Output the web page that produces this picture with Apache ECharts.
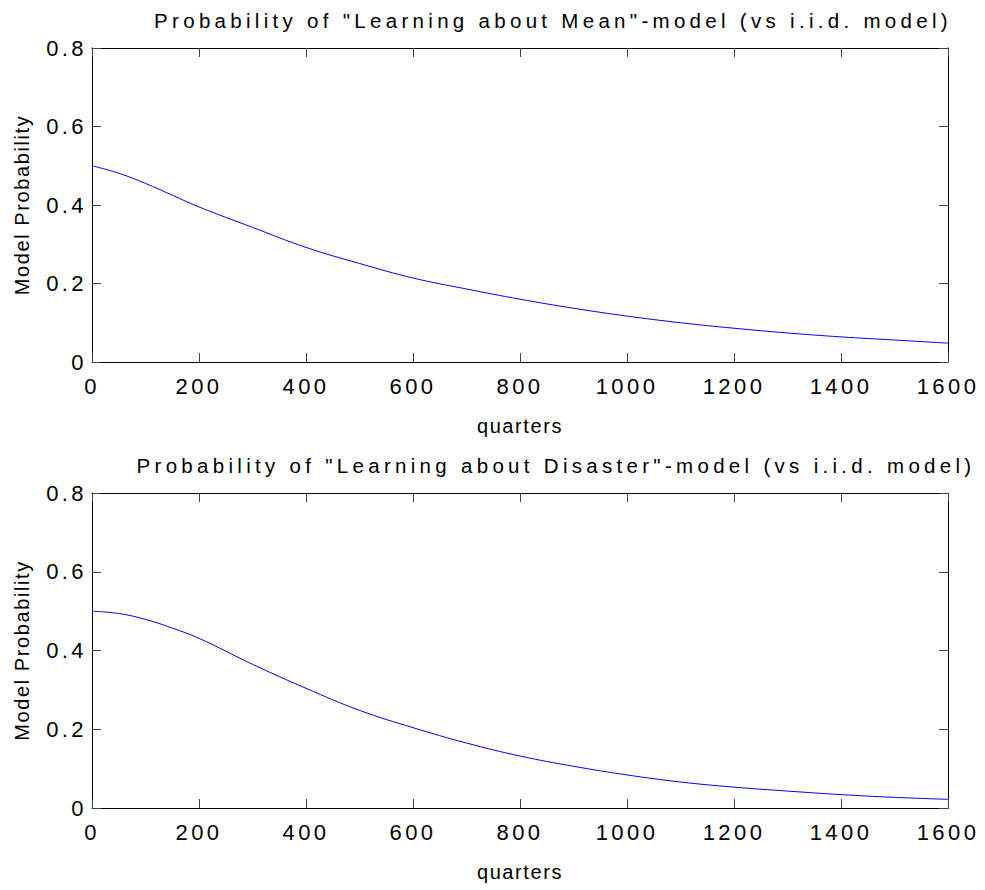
<!DOCTYPE html>
<html>
<head>
<meta charset="utf-8">
<script src="https://cdn.jsdelivr.net/npm/echarts@6/dist/echarts.min.js"></script>
<style>
html,body{margin:0;padding:0;background:#fff;}
#chart{width:985px;height:890px;}
</style>
</head>
<body>
<div id="chart"></div>
<script>
// ---- data ----
const quarters = [0, 50, 100, 150, 200, 300, 400, 500, 600, 700, 800, 900, 1000, 1100, 1200, 1300, 1400, 1500, 1600];
const meanProb = [0.500, 0.481, 0.455, 0.425, 0.395, 0.343, 0.292, 0.251, 0.214, 0.186, 0.160, 0.137, 0.117, 0.100, 0.086, 0.074, 0.064, 0.056, 0.048];
const disasterProb = [0.500, 0.494, 0.479, 0.457, 0.431, 0.365, 0.304, 0.248, 0.204, 0.165, 0.132, 0.106, 0.084, 0.066, 0.053, 0.043, 0.034, 0.027, 0.022];
const xTicks = [0, 200, 400, 600, 800, 1000, 1200, 1400, 1600];
const yTicks = [0, 0.2, 0.4, 0.6, 0.8];
const titles = [
  'Probability of "Learning about Mean"-model (vs i.i.d. model)',
  'Probability of "Learning about Disaster"-model (vs i.i.d. model)'
];
const xName = 'quarters';
const yName = 'Model Probability';

const FONT = '"Liberation Sans", Arial, Helvetica, sans-serif';
const grids = [
  {left: 92, top: 48, width: 856, height: 314},
  {left: 92, top: 493, width: 856, height: 315}
];

const xAxes = [], yAxes = [], series = [];
const seriesData = [meanProb, disasterProb];
grids.forEach((g, gi) => {
  const xMin = xTicks[0], xMax = xTicks[xTicks.length - 1], xInt = xTicks[1] - xTicks[0];
  const yMin = yTicks[0], yMax = yTicks[yTicks.length - 1], yInt = yTicks[1] - yTicks[0];
  const tick = {show: true, inside: true, length: 9, lineStyle: {color: '#444', width: 1}};
  const line = {show: true, onZero: false, lineStyle: {color: '#000', width: 1}};
  // bottom x axis
  xAxes.push({
    type: 'value', gridIndex: gi, position: 'bottom', min: xMin, max: xMax, interval: xInt,
    axisLine: line, axisTick: tick, splitLine: {show: false},
    axisLabel: {show: true, margin: 13, fontSize: 22, color: '#000', fontFamily: FONT,
      formatter: v => String(v), showMinLabel: true, showMaxLabel: true},
    name: xName, nameLocation: 'middle', nameGap: 54,
    nameTextStyle: {fontSize: 20, color: '#000', fontFamily: FONT}
  });
  // top x axis (box)
  xAxes.push({
    type: 'value', gridIndex: gi, position: 'top', min: xMin, max: xMax, interval: xInt,
    axisLine: line, axisTick: tick, splitLine: {show: false}, axisLabel: {show: false}
  });
  // left y axis
  yAxes.push({
    type: 'value', gridIndex: gi, position: 'left', min: yMin, max: yMax, interval: yInt,
    axisLine: line, axisTick: tick, splitLine: {show: false},
    axisLabel: {show: true, margin: 5, fontSize: 22, color: '#000', fontFamily: FONT,
      formatter: v => (v === 0 ? '0' : v.toFixed(1))},
    name: yName, nameLocation: 'middle', nameGap: 60, nameRotate: 90,
    nameTextStyle: {fontSize: 20, color: '#000', fontFamily: FONT}
  });
  // right y axis (box)
  yAxes.push({
    type: 'value', gridIndex: gi, position: 'right', min: yMin, max: yMax, interval: yInt,
    axisLine: line, axisTick: tick, splitLine: {show: false}, axisLabel: {show: false}
  });
  series.push({
    type: 'line', xAxisIndex: gi * 2, yAxisIndex: gi * 2,
    data: quarters.map((q, i) => [q, seriesData[gi][i]]),
    smooth: 0.4, showSymbol: false, symbol: 'none',
    lineStyle: {color: '#0000ff', width: 1}, itemStyle: {color: '#0000ff'},
    animation: false, silent: true
  });
});

const chart = echarts.init(document.getElementById('chart'), null, {renderer: 'svg'});
chart.setOption({
  backgroundColor: '#fff',
  animation: false,
  grid: grids,
  xAxis: xAxes,
  yAxis: yAxes,
  series: series,
  graphic: [
    {type: 'text', x: 553, y: 20, silent: true,
      style: {text: titles[0], fontSize: 20.5, fontFamily: FONT, fill: '#000', align: 'center', verticalAlign: 'middle'}},
    {type: 'text', x: 556, y: 465, silent: true,
      style: {text: titles[1], fontSize: 20.5, fontFamily: FONT, fill: '#000', align: 'center', verticalAlign: 'middle'}}
  ]
});

function spaceText() {
  document.querySelectorAll('#chart svg text').forEach(t => {
    const fs = parseFloat(getComputedStyle(t).fontSize);
    let ls = 0;
    if (Math.abs(fs - 20.5) < 0.2) ls = 4.3;      // titles
    else if (Math.abs(fs - 22) < 0.2) ls = 3.4;   // tick labels
    else if (Math.abs(fs - 20) < 0.2) ls = 1.6;   // axis names
    if (ls) t.style.letterSpacing = ls + 'px';
  });
}
spaceText();
setTimeout(spaceText, 50);
</script>
</body>
</html>
